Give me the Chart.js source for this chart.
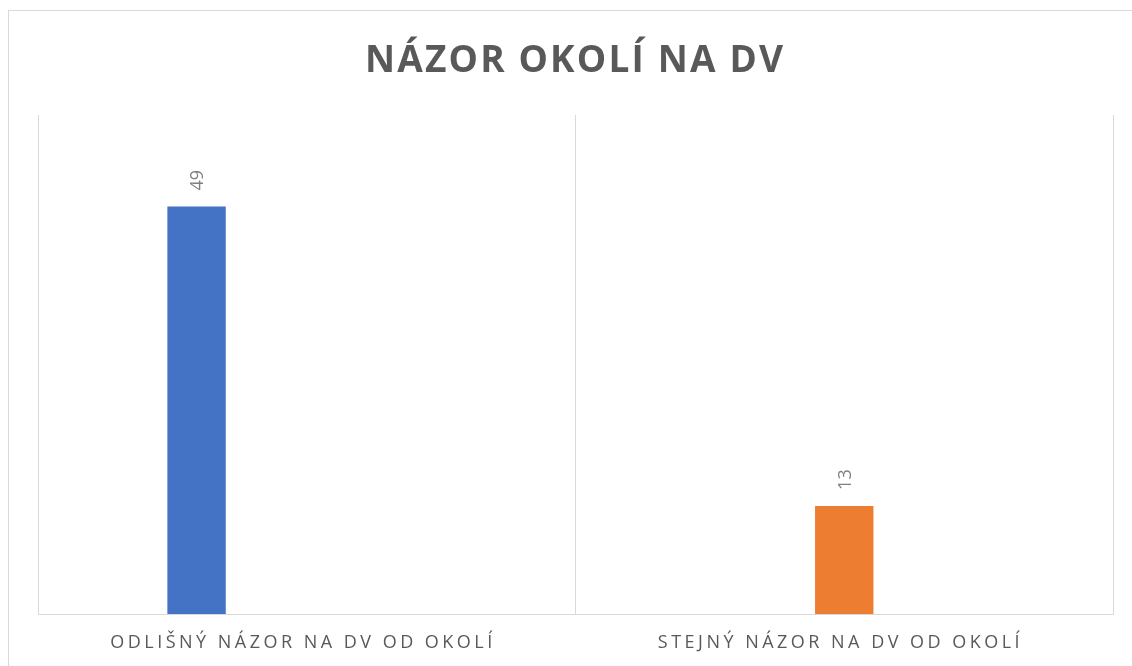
<!DOCTYPE html>
<html><head><meta charset="utf-8">
<script src="https://cdn.jsdelivr.net/npm/chart.js@4"></script>
<style>html,body{margin:0;padding:0;background:#fff}#wrap{width:1132px;height:666px}</style>
</head><body><div id="wrap"><canvas id="c" width="1132" height="666"></canvas></div>
<script>
const chartTitle = 'NÁZOR OKOLÍ NA DV';
const categories = ['ODLIŠNÝ NÁZOR NA DV OD OKOLÍ', 'STEJNÝ NÁZOR NA DV OD OKOLÍ'];
const seriesOdlisny = [49, null];
const seriesStejny = [null, 13];
const seriesEmpty = [null, null];
const yMin = 0;
const yMax = 60;

function spacedWidth(ctx, text, font, sp) {
  ctx.font = font;
  ctx.letterSpacing = '0px';
  return ctx.measureText(text).width + sp * (text.length - 1);
}
function fitSpacing(ctx, text, font, target) {
  ctx.font = font;
  ctx.letterSpacing = '0px';
  const w0 = ctx.measureText(text).width;
  return (target - w0) / (text.length - 1);
}
function drawSpaced(ctx, text, cx, y, font, color, sp) {
  const w = spacedWidth(ctx, text, font, sp);
  ctx.font = font;
  ctx.letterSpacing = sp + 'px';
  ctx.fillStyle = color;
  ctx.textAlign = 'left';
  ctx.textBaseline = 'alphabetic';
  ctx.fillText(text, cx - w / 2, y);
  ctx.letterSpacing = '0px';
}

const textPlugin = {
  id: 'textPlugin',
  beforeDraw(chart) {
    const ctx = chart.ctx;
    ctx.save();
    ctx.strokeStyle = '#d9d9d9';
    ctx.lineWidth = 1;
    ctx.strokeRect(8.5, 10.5, 2000, 2000);
    ctx.restore();
  },
  afterDraw(chart) {
    const ctx = chart.ctx;
    ctx.save();
    const titleFont = 'bold 37px "Open Sans"';
    const tsp = fitSpacing(ctx, chartTitle, titleFont, 418);
    drawSpaced(ctx, chartTitle, 574, 72, titleFont, '#595959', tsp);

    const labFont = '18px "Open Sans"';
    const lsp = fitSpacing(ctx, categories[0], labFont, 382);
    const xs = chart.scales.x;
    categories.forEach((c, i) => {
      drawSpaced(ctx, c, xs.getPixelForValue(i) - 5.5, 648, labFont, '#595959', lsp);
    });

    ctx.font = '18px "Open Sans"';
    ctx.fillStyle = '#7f7f7f';
    ctx.textAlign = 'left';
    ctx.textBaseline = 'alphabetic';
    const cap = 18 * 0.714;
    chart.data.datasets.forEach((ds, di) => {
      const meta = chart.getDatasetMeta(di);
      meta.data.forEach((bar, i) => {
        const v = ds.data[i];
        if (v == null) return;
        ctx.save();
        ctx.translate(bar.x + cap / 2, bar.y - 16);
        ctx.rotate(-Math.PI / 2);
        ctx.fillText(String(v), 0, 0);
        ctx.restore();
      });
    });
    ctx.restore();
  }
};

new Chart(document.getElementById('c'), {
  type: 'bar',
  data: {
    labels: categories,
    datasets: [
      { label: 'Odlišný', data: seriesOdlisny, backgroundColor: '#4472C4' },
      { label: 'Stejný', data: seriesStejny, backgroundColor: '#ED7D31' },
      { label: '', data: seriesEmpty, backgroundColor: 'rgba(0,0,0,0)' }
    ]
  },
  options: {
    responsive: false,
    animation: false,
    categoryPercentage: 0.615,
    barPercentage: 0.53,
    layout: { padding: { left: 38, right: 19, top: 115, bottom: 52 } },
    plugins: { legend: { display: false }, tooltip: { enabled: false }, title: { display: false } },
    scales: {
      x: {
        grid: { color: '#d9d9d9', offset: true, drawTicks: false, tickLength: 0, lineWidth: 1 },
        border: { color: '#d9d9d9', width: 1 },
        ticks: { display: false }
      },
      y: { display: false, min: yMin, max: yMax }
    }
  },
  plugins: [textPlugin]
});
</script>
</body></html>
